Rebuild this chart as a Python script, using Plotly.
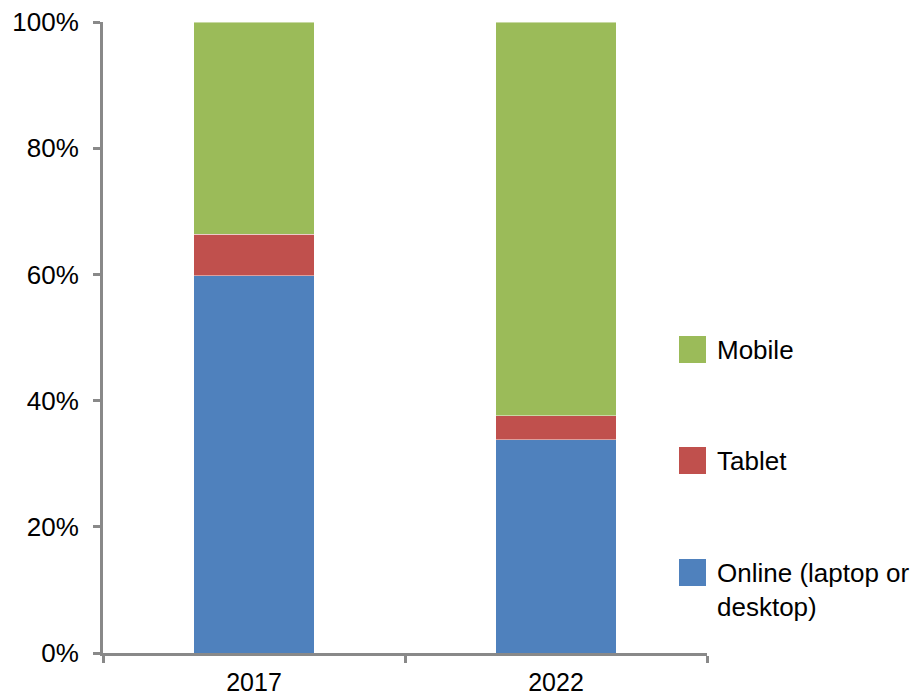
import plotly.graph_objects as go

# Share of traffic by device, stacked to 100%
years = ["2017", "2022"]
online = [59.8, 33.8]
tablet = [6.6, 3.8]
mobile = [33.6, 62.4]

series_names = ["Online (laptop or<br>desktop)", "Tablet", "Mobile"]
series_values = [online, tablet, mobile]
series_colors = ["#4F81BD", "#C0504D", "#9BBB59"]

y_ticks = [0, 20, 40, 60, 80, 100]
y_tick_labels = ["0%", "20%", "40%", "60%", "80%", "100%"]

W, H = 918, 697
L, R, T, B = 103, 211, 22, 44
FONT = "Liberation Sans, Arial, sans-serif"
FONT_SIZE = 26
AXIS_COLOR = "#898989"

fig = go.Figure()
for name, vals, color in zip(series_names, series_values, series_colors):
    fig.add_trace(go.Bar(
        x=years, y=vals, name=name,
        marker=dict(color=color, line=dict(color="rgba(255,255,255,0.45)", width=1)),
        showlegend=False,
    ))

# Legend drawn as swatches with labels to the right of the plot area
plot_w = W - L - R
plot_h = H - T - B

def px_x(px):
    return (px - L) / plot_w

def px_y(py):
    return (H - B - py) / plot_h

legend_rows = [(2, 336), (1, 447), (0, 559)]  # (series index, swatch top in px)
shapes = []
annotations = []
for idx, top in legend_rows:
    shapes.append(dict(
        type="rect", xref="paper", yref="paper",
        x0=px_x(679), x1=px_x(706), y0=px_y(top + 27), y1=px_y(top),
        fillcolor=series_colors[idx], line=dict(width=0),
    ))
    lines = series_names[idx].count("<br>") + 1
    annotations.append(dict(
        xref="paper", yref="paper", x=px_x(715),
        y=px_y(top - 3) if lines > 1 else px_y(top + 13.5),
        xanchor="left", yanchor="top" if lines > 1 else "middle",
        text=series_names[idx], showarrow=False, align="left",
        font=dict(family=FONT, size=FONT_SIZE, color="#000000"),
    ))

fig.update_layout(
    width=W, height=H,
    margin=dict(l=L, r=R, t=T, b=B, pad=0, autoexpand=False),
    barmode="stack", bargap=0.6,
    plot_bgcolor="white", paper_bgcolor="white",
    font=dict(family=FONT, size=FONT_SIZE, color="#000000"),
    shapes=shapes, annotations=annotations,
    xaxis=dict(
        type="category", range=[-0.5, 1.5], automargin=False,
        showline=True, linecolor=AXIS_COLOR, linewidth=3,
        ticks="outside", tickson="boundaries", ticklen=7, tickwidth=3, tickcolor=AXIS_COLOR,
        showgrid=False, zeroline=False, ticklabelstandoff=5,
        tickfont=dict(family=FONT, size=25, color="#000000"),
    ),
    yaxis=dict(
        range=[0, 100], tickvals=y_ticks, ticktext=y_tick_labels, automargin=False,
        showline=True, linecolor=AXIS_COLOR, linewidth=3,
        ticks="outside", ticklen=7, tickwidth=3, tickcolor=AXIS_COLOR,
        showgrid=False, zeroline=False, ticklabelstandoff=9,
    ),
)

fig.write_html("out.html")
